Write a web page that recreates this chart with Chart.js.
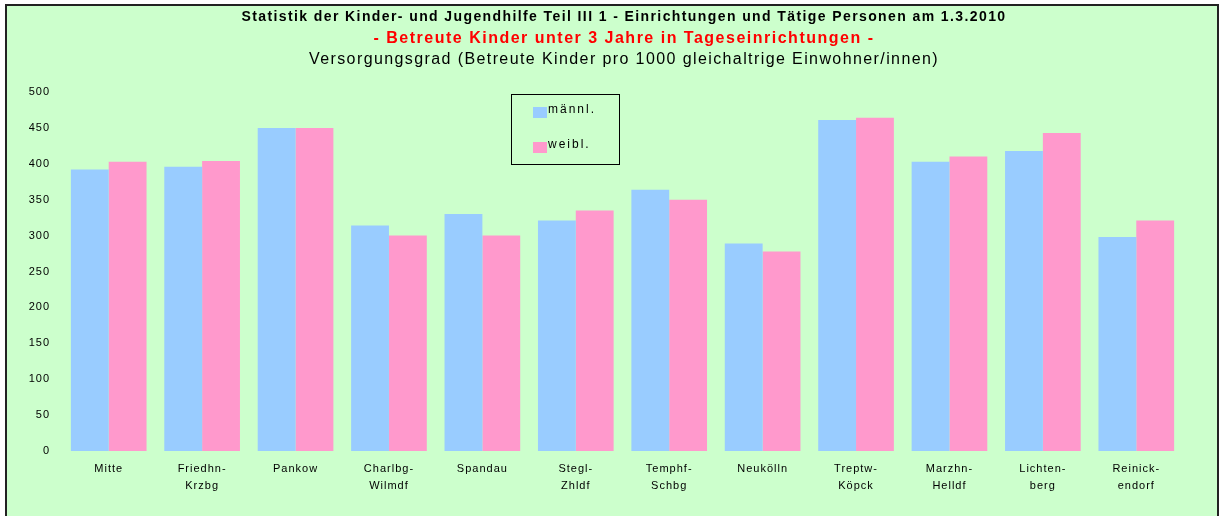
<!DOCTYPE html>
<html>
<head>
<meta charset="utf-8">
<script src="https://cdn.jsdelivr.net/npm/chart.js@4.4.0/dist/chart.umd.min.js"></script>
<style>
html, body { margin: 0; padding: 0; background: #fff; overflow: hidden; }
</style>
</head>
<body>
<canvas id="chart" width="1221" height="516"></canvas>
<script>
// data
const districts = [
    ['Mitte'], ['Friedhn-', 'Krzbg'], ['Pankow'], ['Charlbg-', 'Wilmdf'],
    ['Spandau'], ['Stegl-', 'Zhldf'], ['Temphf-', 'Schbg'], ['Neukölln'],
    ['Treptw-', 'Köpck'], ['Marzhn-', 'Helldf'], ['Lichten-', 'berg'], ['Reinick-', 'endorf']
];
const maennl = [392, 396, 450, 314, 330, 321, 364, 289, 461, 403, 418, 298];
const weibl = [403, 404, 450, 300, 300, 335, 350, 278, 464, 410, 443, 321];
const seriesNames = ['männl.', 'weibl.'];
const yMin = 0, yMax = 500, yStep = 50;

const titleLines = [
    { text: 'Statistik der Kinder- und Jugendhilfe Teil III 1 - Einrichtungen und Tätige Personen am 1.3.2010', font: 'bold 14px "Liberation Sans"', color: '#000', y: 17, spacing: '1.4px' },
    { text: '- Betreute Kinder unter 3 Jahre in Tageseinrichtungen -', font: 'bold 16px "Liberation Sans"', color: '#ff0000', y: 39, spacing: '1.5px' },
    { text: 'Versorgungsgrad (Betreute Kinder pro 1000 gleichaltrige Einwohner/innen)', font: '16px "Liberation Sans"', color: '#000', y: 60, spacing: '1.4px' }
];

const FONT = '"Liberation Sans", Arial, sans-serif';

// keep letter spacing on the canvas (resizes wipe the context state)
const spacingPlugin = {
    id: 'spacing',
    beforeUpdate(chart) { chart.ctx.letterSpacing = '1px'; },
    beforeDraw(chart) { chart.ctx.letterSpacing = '1px'; }
};

// green frame behind everything
const framePlugin = {
    id: 'frame',
    beforeDraw(chart) {
        const ctx = chart.ctx;
        ctx.save();
        ctx.fillStyle = '#ccffcc';
        ctx.fillRect(6, 5, 1212, 520);
        ctx.strokeStyle = '#222';
        ctx.lineWidth = 2;
        ctx.strokeRect(6, 5, 1212, 520);
        ctx.restore();
    }
};

// three title lines and the boxed legend inside the plot
const textPlugin = {
    id: 'texts',
    afterDraw(chart) {
        const ctx = chart.ctx;
        ctx.save();
        ctx.textAlign = 'center';
        ctx.textBaseline = 'middle';
        titleLines.forEach(line => {
            ctx.font = line.font;
            ctx.fillStyle = line.color;
            ctx.letterSpacing = line.spacing;
            ctx.fillText(line.text, 624, line.y);
        });

        // legend box
        ctx.letterSpacing = '2px';
        ctx.strokeStyle = '#000';
        ctx.lineWidth = 1;
        ctx.strokeRect(511.5, 94.5, 108, 70);
        ctx.textAlign = 'left';
        ctx.font = '12px ' + FONT;
        const rows = [112, 147];
        chart.data.datasets.forEach((ds, i) => {
            ctx.fillStyle = ds.backgroundColor;
            ctx.fillRect(533, rows[i] - 5, 14, 11);
            ctx.fillStyle = '#000';
            ctx.fillText(ds.label, 548, rows[i] - 2);
        });
        ctx.restore();
    }
};

new Chart(document.getElementById('chart'), {
    type: 'bar',
    data: {
        labels: districts,
        datasets: [
            { label: seriesNames[0], data: maennl, backgroundColor: '#99ccff' },
            { label: seriesNames[1], data: weibl, backgroundColor: '#ff99cc' }
        ]
    },
    options: {
        responsive: false,
        animation: false,
        devicePixelRatio: 1,
        layout: { padding: { left: 20, right: 38, top: 92, bottom: 25 } },
        datasets: { bar: { categoryPercentage: 0.81, barPercentage: 1.0 } },
        plugins: {
            legend: { display: false },
            title: { display: false },
            tooltip: { enabled: false }
        },
        scales: {
            x: {
                grid: { display: false, drawTicks: false },
                border: { display: false },
                ticks: {
                    color: '#000',
                    padding: 9,
                    maxRotation: 0,
                    autoSkip: false,
                    font: { family: FONT, size: 11, lineHeight: 1.55 }
                },
                afterFit(scale) { scale.height = 40; }
            },
            y: {
                min: yMin,
                max: yMax,
                grid: { display: false, drawTicks: false },
                border: { display: false },
                ticks: {
                    stepSize: yStep,
                    color: '#000',
                    padding: 12,
                    font: { family: FONT, size: 11 }
                },
                afterFit(scale) { scale.width = 42; }
            }
        }
    },
    plugins: [spacingPlugin, framePlugin, textPlugin]
});
</script>
</body>
</html>
